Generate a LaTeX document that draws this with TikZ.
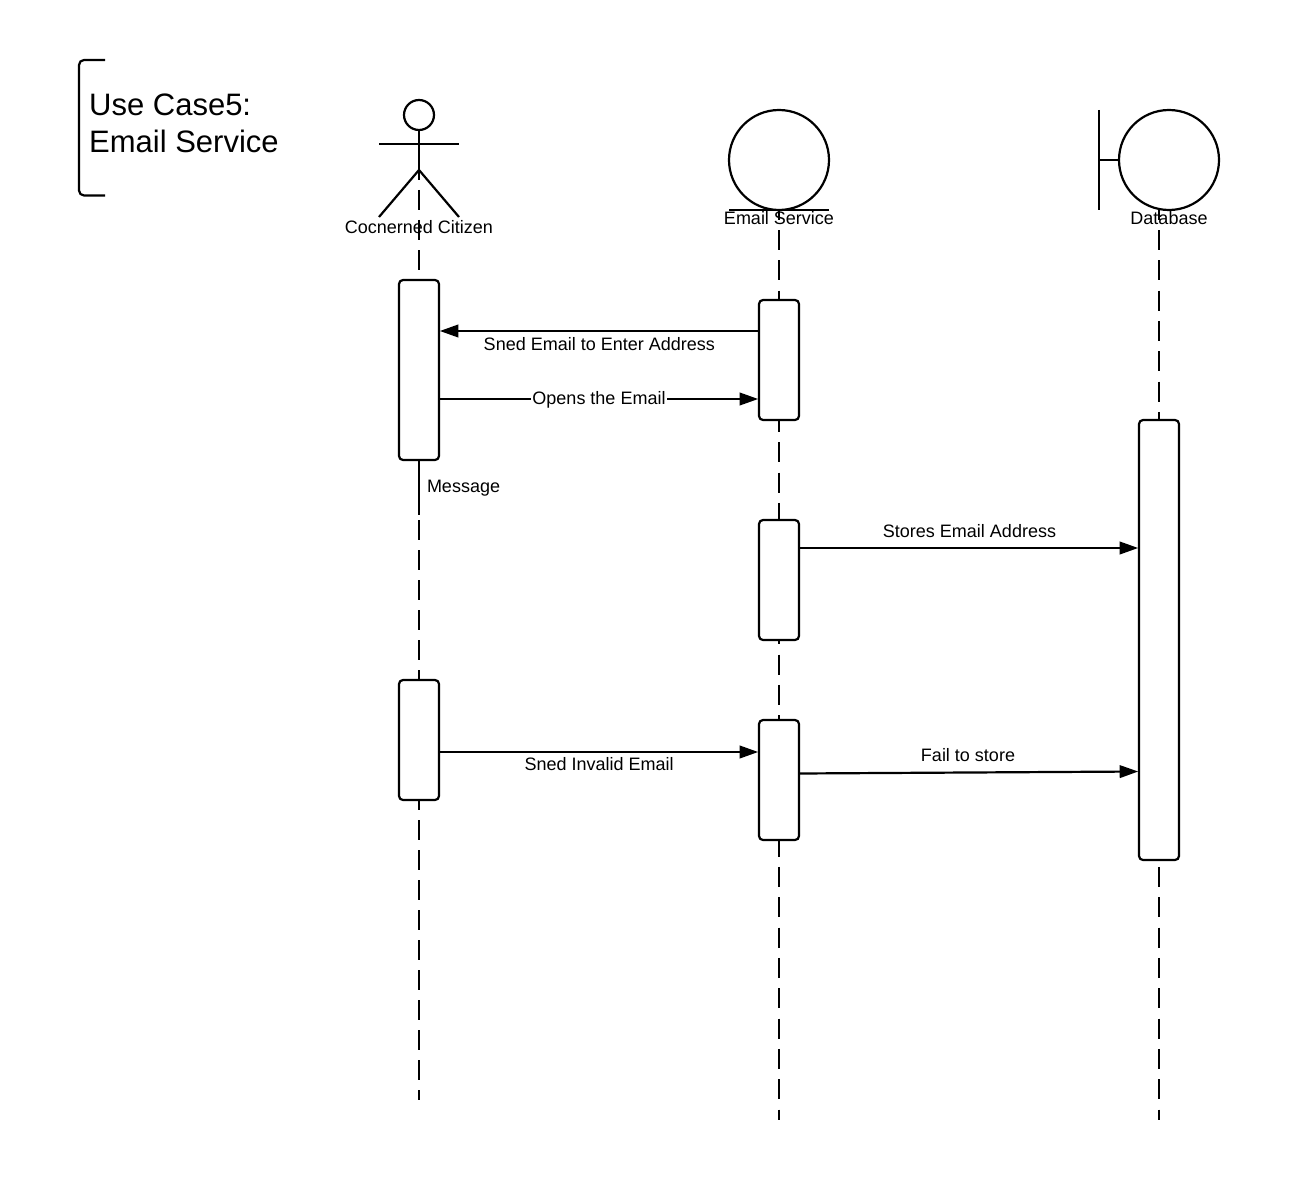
\documentclass[tikz,border=0pt]{standalone}
\usepackage{fontspec}
\setmainfont{Liberation Sans}
\usetikzlibrary{arrows.meta}
\tikzset{
  x=1pt,y=-1pt,
  every path/.style={line width=2.2pt},
  bar/.style={draw,fill=white,rounded corners=4pt,minimum width=40pt,inner sep=0pt,outer sep=0pt,line width=2.2pt},
  roundel/.style={draw,fill=white,circle,minimum size=100pt,inner sep=0pt,outer sep=0pt,line width=2.2pt},
  head/.style={draw,fill=white,circle,minimum size=30pt,inner sep=0pt,outer sep=0pt,line width=2.2pt},
  lifeA/.style={line width=2.2pt,dash pattern=on 20pt off 10pt},
  lifeB/.style={line width=2.2pt,dash pattern=on 20pt off 10.33pt},
  msg/.style={line width=2.2pt,-{Triangle[length=18.5pt,width=12.5pt]},shorten >=0.8pt},
  lbl/.style={font=\fontsize{18}{22}\selectfont,inner sep=0pt,outer sep=0pt,anchor=base},
  ttl/.style={font=\fontsize{31}{37}\selectfont,inner sep=0pt,outer sep=0pt,anchor=north west,align=left}
}
\begin{document}
\begin{tikzpicture}
\useasboundingbox (0,0) rectangle (1298,1185);
% lifeline ends
\coordinate (cTop) at (419,160);
\coordinate (cEnd) at (419,1100);
\coordinate (mEnd) at (419,515);
\coordinate (eTop) at (779,199.67);
\coordinate (eEnd) at (779,1120);
\coordinate (dTop) at (1159,199.67);
\coordinate (dEnd) at (1159,1120);
\draw[lifeA] (cTop) -- (cEnd);
\draw[lifeB] (eTop) -- (eEnd);
\draw[lifeB] (dTop) -- (dEnd);
% activation bars
\node[bar,minimum height=180pt] (a1) at (419,370) {};
\node[bar,minimum height=120pt] (a2) at (419,740) {};
\node[bar,minimum height=120pt] (e1) at (779,360) {};
\node[bar,minimum height=120pt] (e2) at (779,580) {};
\node[bar,minimum height=120pt] (e3) at (779,780) {};
\node[bar,minimum height=440pt] (d1) at (1159,640) {};
% title bracket
\coordinate (bTop) at (105,60);
\coordinate (bBot) at (105,195.5);
\draw[rounded corners=5pt] (bTop) -- (79,60) -- (79,195.5) -- (bBot);
\node[ttl] (title) at (89.2,94) {Use Case5:\\Email Service};
% actor
\node[head] (actor) at (419,115) {};
\coordinate (hip) at (419,170);
\coordinate (armL) at (379,144);
\coordinate (armR) at (459,144);
\coordinate (legL) at (379,217);
\coordinate (legR) at (459,217);
\draw (actor.south) -- (hip);
\draw (armL) -- (armR);
\draw (legL) -- (hip) -- (legR);
% entity
\node[roundel] (entity) at (779,160) {};
\coordinate (uL) at (729,210);
\coordinate (uR) at (829,210);
\draw (uL) -- (uR);
% boundary
\node[roundel] (boundary) at (1169,160) {};
\coordinate (wTop) at (1099,110);
\coordinate (wBot) at (1099,210);
\coordinate (wMid) at (1099,160);
\draw (wTop) -- (wBot);
\draw (wMid) -- (boundary.west);
% participant labels
\node[lbl] (lc) at (419,233.5) {Cocnerned Citizen};
\node[lbl] (le) at (779,225) {Email Service};
\node[lbl] (ld) at (1169,225) {Database};
% messages
\draw[msg] (e1.west |- 0,331) -- (a1.east |- 0,331);
\node[lbl] (m1) at (599.3,350) {Sned Email to Enter Address};
\draw[msg] (a1.east |- 0,399) -- (e1.west |- 0,399);
\node[lbl,fill=white,inner xsep=1pt,anchor=center] (m2) at (599,399.5) {Opens the Email};
\draw (a1.south) -- (mEnd);
\node[lbl,anchor=base west] (m3) at (427,492.5) {Message};
\draw[msg] (e2.east |- 0,548) -- (d1.west |- 0,548);
\node[lbl] (m4) at (969.5,537.5) {Stores Email Address};
\draw[msg] (a2.east |- 0,752) -- (e3.west |- 0,752);
\node[lbl] (m5) at (599.2,770.6) {Sned Invalid Email};
\draw[msg] (e3.east |- 0,773.5) -- (d1.west |- 0,771.5);
\node[lbl] (m6) at (968,761.9) {Fail to store};
\end{tikzpicture}
\end{document}
